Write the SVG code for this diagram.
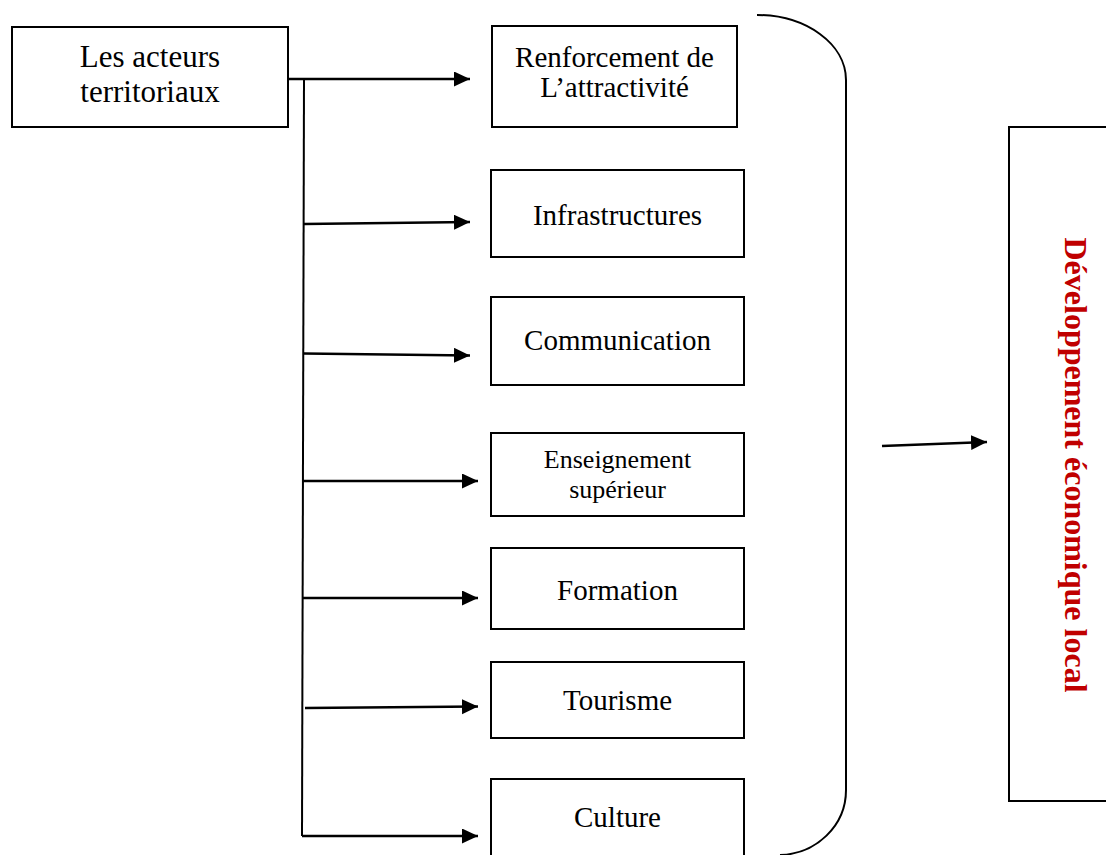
<svg xmlns="http://www.w3.org/2000/svg" width="1106" height="855" viewBox="0 0 1106 855">
  <style>
    .box { fill: #ffffff; stroke: #000000; stroke-width: 2; }
    .lbl { font-family: "Liberation Serif", "Times New Roman", serif; fill: #000000; text-anchor: middle; }
    .conn { fill: none; stroke: #000000; stroke-width: 2.5; }
    .arr { marker-end: url(#head); }
    .trunk { fill: none; stroke: #000000; stroke-width: 2; }
    .brace { fill: none; stroke: #000000; stroke-width: 2; }
    .title { font-family: "Liberation Serif", "Times New Roman", serif; font-weight: bold; fill: #C00000; text-anchor: middle; font-size: 32px; }
  </style>
  <defs>
    <marker id="head" markerUnits="userSpaceOnUse" markerWidth="17" markerHeight="16" refX="16" refY="7.5" orient="auto">
      <path d="M0,0 L16,7.5 L0,15 Z" fill="#000000"/>
    </marker>
  </defs>

  <rect width="1106" height="855" fill="#ffffff"/>

  <!-- source actor -->
  <g id="acteurs">
    <rect class="box" x="12" y="27" width="276" height="100"/>
    <text class="lbl" font-size="31" x="150" y="67">Les acteurs</text>
    <text class="lbl" font-size="31" x="150" y="102">territoriaux</text>
  </g>

  <!-- levers -->
  <g id="attractivite">
    <rect class="box" x="492" y="26" width="245" height="101"/>
    <text class="lbl" font-size="29" x="614.5" y="67">Renforcement de</text>
    <text class="lbl" font-size="29" x="614.5" y="97">L’attractivité</text>
  </g>
  <g id="infrastructures">
    <rect class="box" x="491" y="170" width="253" height="87"/>
    <text class="lbl" font-size="29" x="617.5" y="225">Infrastructures</text>
  </g>
  <g id="communication">
    <rect class="box" x="491" y="297" width="253" height="88"/>
    <text class="lbl" font-size="29" x="617.5" y="350">Communication</text>
  </g>
  <g id="enseignement">
    <rect class="box" x="491" y="433" width="253" height="83"/>
    <text class="lbl" font-size="26" x="617.5" y="468">Enseignement</text>
    <text class="lbl" font-size="26" x="617.5" y="498">supérieur</text>
  </g>
  <g id="formation">
    <rect class="box" x="491" y="548" width="253" height="81"/>
    <text class="lbl" font-size="29" x="617.5" y="600">Formation</text>
  </g>
  <g id="tourisme">
    <rect class="box" x="491" y="662" width="253" height="76"/>
    <text class="lbl" font-size="29" x="617.5" y="710">Tourisme</text>
  </g>
  <g id="culture">
    <rect class="box" x="491" y="779" width="253" height="90"/>
    <text class="lbl" font-size="29" x="617.5" y="827">Culture</text>
  </g>

  <!-- grouping bracket -->
  <g id="accolade">
    <path class="brace" d="M757,15 C806,15 846,44 846,80 L846,790 C846,826 816,854 780,855"/>
  </g>

  <!-- outcome -->
  <g id="developpement">
    <rect class="box" x="1009" y="127" width="120" height="674"/>
    <text class="title" transform="translate(1065,465) rotate(90)" x="0" y="0">Développement économique local</text>
  </g>

  <!-- connectors -->
  <g id="connecteurs">
    <line class="trunk" x1="304" y1="79" x2="302" y2="836"/>
    <line class="conn arr" x1="288" y1="79" x2="470" y2="79"/>
    <line class="conn arr" x1="304" y1="224" x2="470" y2="222"/>
    <line class="conn arr" x1="304" y1="353.5" x2="470" y2="355.5"/>
    <line class="conn arr" x1="302" y1="481" x2="478" y2="481"/>
    <line class="conn arr" x1="302" y1="598" x2="478" y2="598"/>
    <line class="conn arr" x1="305" y1="708" x2="478" y2="706.5"/>
    <line class="conn arr" x1="302" y1="836" x2="478" y2="836"/>
    <line class="conn arr" x1="882" y1="446" x2="987" y2="442"/>
  </g>
</svg>
